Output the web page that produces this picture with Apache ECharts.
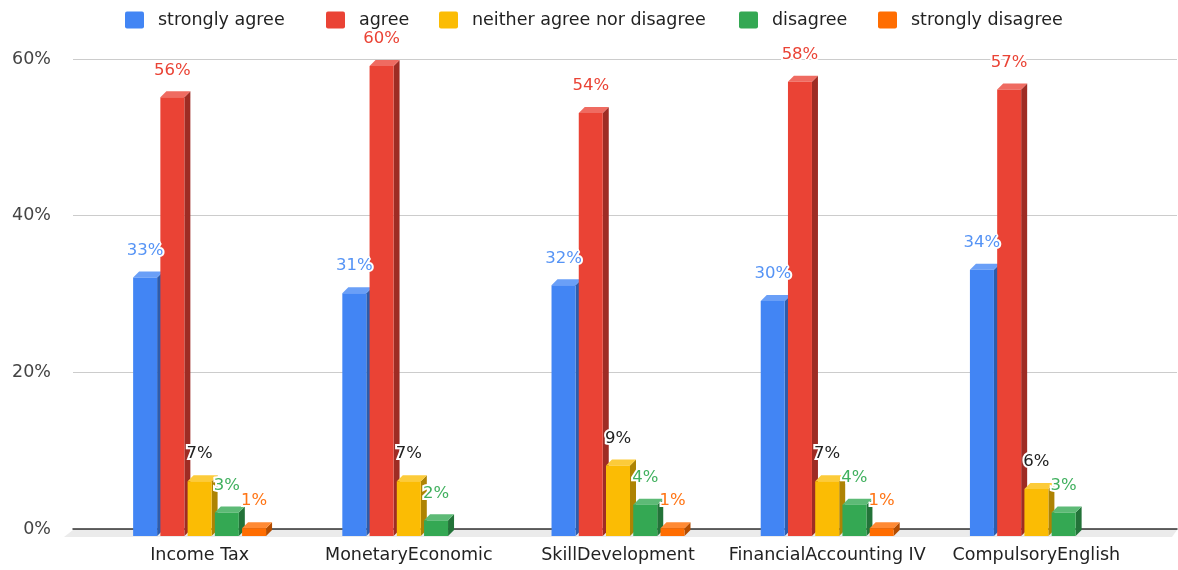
<!DOCTYPE html>
<html><head><meta charset="utf-8">
<script src="https://cdn.jsdelivr.net/npm/echarts@6/dist/echarts.min.js"></script>
<style>html,body{margin:0;padding:0;background:#fff}#c{width:1178px;height:570px}</style>
</head><body><div id="c"></div>
<script>
// ---- data ----
const categories = ['Income Tax', 'MonetaryEconomic', 'SkillDevelopment', 'FinancialAccounting IV', 'CompulsoryEnglish'];
const seriesNames = ['strongly agree', 'agree', 'neither agree nor disagree', 'disagree', 'strongly disagree'];
const stronglyAgree = [33, 31, 32, 30, 34];
const agree = [56, 60, 54, 58, 57];
const neither = [7, 7, 9, 7, 6];
const disagree = [3, 2, 4, 4, 3];
const stronglyDisagree = [1, null, 1, 1, null];
const yMin = 0, yMax = 60, yStep = 20;

// ---- styles ----
const values = [stronglyAgree, agree, neither, disagree, stronglyDisagree];
const frontColors = ['#4285F4', '#EA4335', '#FBBC04', '#34A853', '#FF6D01'];
const sideColors = ['#2d5cab', '#9e2c24', '#ae8303', '#237339', '#b34c00'];
const topColors = ['#6a9ff7', '#ef6b61', '#fccb3a', '#5dba76', '#ff8a34'];
const labelColors = ['#5593f5', '#ea4335', '#212121', '#40b05e', '#ff7414'];
const legendLefts = [120, 321, 434, 734, 873];
const FONT = '"DejaVu Sans", sans-serif';
const DX = 6, DY = 6, DROP = 7;

function geom(s, api) {
  const c = api.value(0), v = api.value(1);
  const base = api.coord([c, 0]);
  const top = api.coord([c, v]);
  const band = api.size([1, 0])[0];
  const step = band * 0.1302, w = band * 0.1147;
  const x0 = base[0] + (s - 2) * step - w / 2;
  return { x0: x0, x1: x0 + w, yb: base[1] + DROP, yt: top[1] + DROP, v: v };
}

function barRender(s) {
  return function (params, api) {
    const v = api.value(1);
    if (v == null || isNaN(v)) return;
    const g = geom(s, api);
    return { type: 'group', children: [
      { type: 'polygon', shape: { points: [[g.x1, g.yt], [g.x1 + DX, g.yt - DY], [g.x1 + DX, g.yb - DY], [g.x1, g.yb]] }, style: { fill: sideColors[s] } },
      { type: 'polygon', shape: { points: [[g.x0, g.yt], [g.x0 + DX, g.yt - DY], [g.x1 + DX, g.yt - DY], [g.x1, g.yt]] }, style: { fill: topColors[s] } },
      { type: 'rect', shape: { x: g.x0, y: g.yt, width: g.x1 - g.x0, height: g.yb - g.yt }, style: { fill: frontColors[s] } }
    ] };
  };
}

function labelRender(s) {
  return function (params, api) {
    const v = api.value(1);
    if (v == null || isNaN(v)) return;
    const g = geom(s, api);
    return { type: 'text', style: {
      text: Math.round(v) + '%', x: (g.x0 + g.x1) / 2, y: g.yt - 27,
      align: 'center', verticalAlign: 'middle',
      fill: labelColors[s], stroke: '#fff', lineWidth: 4,
      font: '16.5px ' + FONT
    } };
  };
}

const series = [];
series.push({
  type: 'custom', xAxisIndex: 0, yAxisIndex: 0, z: 1, silent: true,
  data: [[0]],
  renderItem: function (params, api) {
    const l = api.coord([0, 0]), r = api.coord([1, 0]);
    const y = l[1] + 1;
    return { type: 'polygon', shape: { points: [[l[0], y], [r[0], y], [r[0] - 5, y + 7], [l[0] - 9, y + 7]] }, style: { fill: '#ebebeb' } };
  }
});
seriesNames.forEach(function (name, s) {
  const data = categories.map(function (c, i) { return [i, values[s][i]]; });
  series.push({ type: 'custom', name: name, xAxisIndex: 1, yAxisIndex: 1, z: 3,
    itemStyle: { color: frontColors[s] }, encode: { x: 0, y: 1 }, data: data, renderItem: barRender(s) });
});
seriesNames.forEach(function (name, s) {
  const data = categories.map(function (c, i) { return [i, values[s][i]]; });
  series.push({ type: 'custom', name: name, xAxisIndex: 1, yAxisIndex: 1, z: 5, silent: true,
    itemStyle: { color: frontColors[s] }, encode: { x: 0, y: 1 }, data: data, renderItem: labelRender(s) });
});

const legendIcon = 'path://M2,0 H17 A2,2 0 0 1 19,2 V15 A2,2 0 0 1 17,17 H2 A2,2 0 0 1 0,15 V2 A2,2 0 0 1 2,0 Z';
const legends = seriesNames.map(function (n, i) {
  return {
    data: [n], left: legendLefts[i], top: 6, itemWidth: 19, itemHeight: 17,
    icon: legendIcon, selectedMode: false,
    textStyle: { fontSize: 17.5, color: '#222', fontFamily: FONT, padding: [0, 0, 0, 9] }
  };
});

const chart = echarts.init(document.getElementById('c'), null, { renderer: 'canvas' });
chart.setOption({
  animation: false,
  backgroundColor: '#fff',
  textStyle: { fontFamily: FONT },
  legend: legends,
  grid: [
    { left: 73, right: 1, top: 59, bottom: 41 },
    { left: 95, width: 1046, top: 59, bottom: 41 }
  ],
  xAxis: [
    { type: 'value', gridIndex: 0, min: 0, max: 1, axisLabel: { show: false }, axisTick: { show: false },
      splitLine: { show: false }, axisLine: { show: true, lineStyle: { color: '#333', width: 1.5 } } },
    { type: 'category', gridIndex: 1, data: categories, axisLine: { show: false }, axisTick: { show: false },
      axisLabel: { margin: 17, fontSize: 17.5, color: '#222', fontFamily: FONT, interval: 0 } }
  ],
  yAxis: [
    { type: 'value', gridIndex: 0, min: yMin, max: yMax, interval: yStep,
      axisLine: { show: false }, axisTick: { show: false },
      axisLabel: { formatter: '{value}%', margin: 22, fontSize: 17.5, color: '#444', fontFamily: FONT },
      splitLine: { lineStyle: { color: '#cccccc', width: 1 } } },
    { type: 'value', gridIndex: 1, min: yMin, max: yMax, show: false, splitLine: { show: false } }
  ],
  series: series
});
</script></body></html>
